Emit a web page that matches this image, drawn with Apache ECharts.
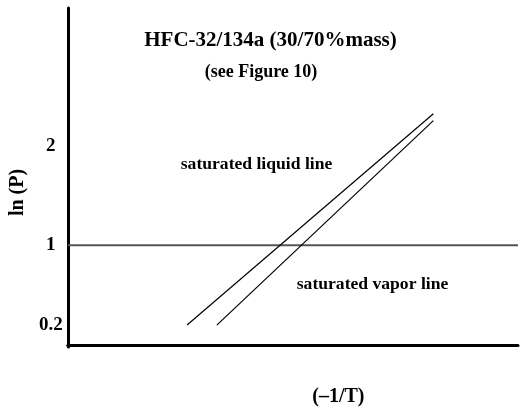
<!DOCTYPE html>
<html>
<head>
<meta charset="utf-8">
<script src="https://cdn.jsdelivr.net/npm/echarts@6/dist/echarts.min.js"></script>
<style>
html,body{margin:0;padding:0;background:#fff;}
#chart{width:520px;height:412px;}
</style>
</head>
<body>
<div id="chart"></div>
<script>
// Schematic data (abstract axis units)
const liquidX = [2.65, 8.12];
const liquidY = [0.20, 2.32];
const vaporX = [3.31, 8.12];
const vaporY = [0.20, 2.25];
const refX = [0, 10];
const refY = [1, 1];
const yTickValues = [0.2, 1, 2];
const yTickLabels = ['0.2', '1', '2'];
const titleText = 'HFC-32/134a (30/70%mass)';
const subTitleText = '(see Figure 10)';
const liquidLabel = 'saturated liquid line';
const vaporLabel = 'saturated vapor line';
const xName = '(\u20131/T)';
const yName = 'ln (P)';

const serif = "'Liberation Serif','Times New Roman',serif";
const zip = (xs, ys) => xs.map((x, i) => [x, ys[i]]);

const chart = echarts.init(document.getElementById('chart'));
chart.setOption({
  animation: false,
  backgroundColor: '#fff',
  title: [
    { text: titleText, left: 265.5, top: 25, textAlign: 'center',
      textStyle: { fontFamily: serif, fontWeight: 'bold', fontSize: 21, color: '#000' } },
    { text: subTitleText, left: 256, top: 58, textAlign: 'center',
      textStyle: { fontFamily: serif, fontWeight: 'bold', fontSize: 18, color: '#000' } }
  ],
  grid: { left: 65.5, right: 2, top: 8, bottom: 57, containLabel: false },
  xAxis: {
    type: 'value', min: 0, max: 10,
    name: xName, nameLocation: 'middle', nameGap: 40,
    nameTextStyle: { fontFamily: serif, fontWeight: 'bold', fontSize: 20, color: '#000', padding: [0, 0, 0, 91] },
    axisLine: { show: true, lineStyle: { color: '#000', width: 3 } },
    axisTick: { show: false }, axisLabel: { show: false }, splitLine: { show: false }
  },
  yAxis: {
    type: 'value', min: -0.02, max: 3.38,
    name: yName, nameLocation: 'middle', nameGap: 33, nameRotate: 90,
    nameTextStyle: { fontFamily: serif, fontWeight: 'bold', fontSize: 20, color: '#000', padding: [0, 30, 0, 0] },
    axisLine: { show: true, lineStyle: { color: '#000', width: 3 } },
    axisTick: { show: false }, splitLine: { show: false },
    axisLabel: {
      customValues: yTickValues,
      formatter: v => { const i = yTickValues.indexOf(v); return i >= 0 ? yTickLabels[i] : ''; },
      align: 'center', margin: 17,
      fontFamily: serif, fontWeight: 'bold', fontSize: 19, color: '#000'
    }
  },
  series: [
    { type: 'line', data: zip(refX, refY), symbol: 'none', silent: true,
      lineStyle: { color: '#555', width: 2 } },
    { type: 'line', data: zip(liquidX, liquidY), symbol: 'none', silent: true,
      lineStyle: { color: '#000', width: 1.2 } },
    { type: 'line', data: zip(vaporX, vaporY), symbol: 'none', silent: true,
      lineStyle: { color: '#000', width: 1.2 } }
  ],
  graphic: [
    { type: 'text', x: 256.5, y: 164, style: { text: liquidLabel, align: 'center', verticalAlign: 'middle',
      font: "bold 17.6px 'Liberation Serif','Times New Roman',serif", fill: '#000' } },
    { type: 'text', x: 372.5, y: 284, style: { text: vaporLabel, align: 'center', verticalAlign: 'middle',
      font: "bold 17.6px 'Liberation Serif','Times New Roman',serif", fill: '#000' } }
  ]
});
</script>
</body>
</html>
